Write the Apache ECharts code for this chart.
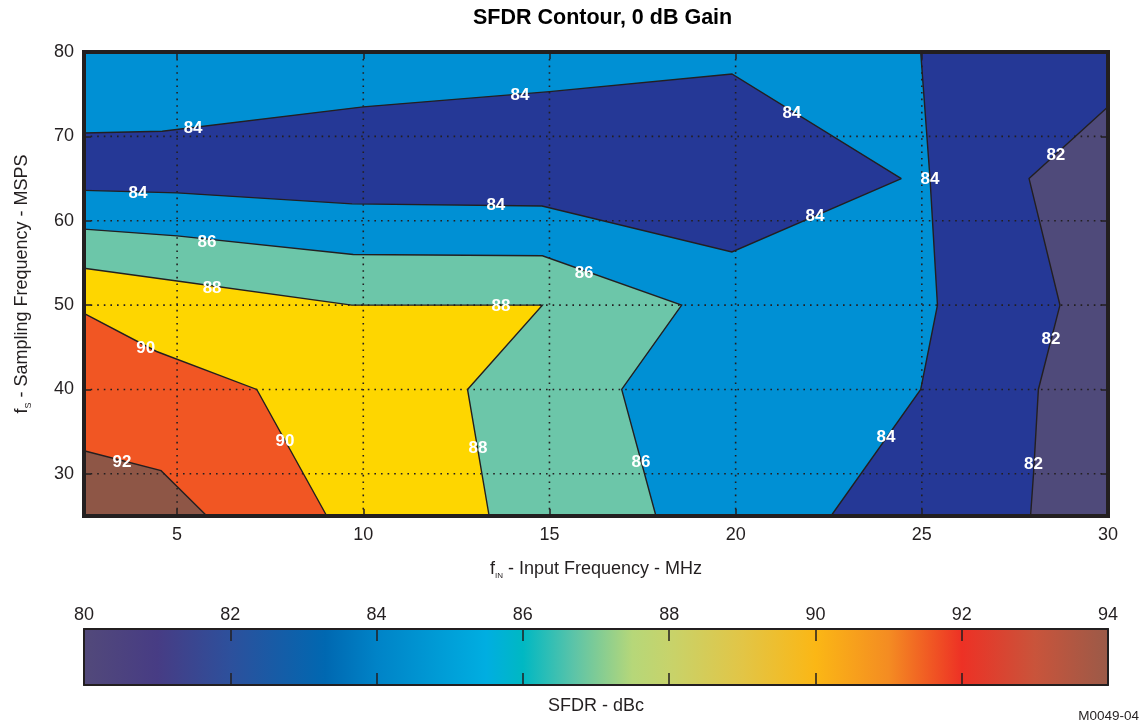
<!DOCTYPE html>
<html><head><meta charset="utf-8">
<script src="https://cdn.jsdelivr.net/npm/echarts@6/dist/echarts.min.js"></script>
<style>html,body{margin:0;padding:0;background:#fff}#c{width:1143px;height:724px}</style>
</head><body><div id="c"></div>
<script>
// ---- axis ranges / ticks ----
const xRange = [2.5, 30];
const yRange = [25, 80];
const xTicks = [5, 10, 15, 20, 25, 30];
const yTicks = [30, 40, 50, 60, 70, 80];
const cbRange = [80, 94];

// ---- contour level fill colours (80-82, 82-84, ..., 92-94) ----
const colGrey = '#4f4a7a';
const colDarkBlue = '#253896';
const colBlue = '#0090d4';
const colTeal = '#6cc6a9';
const colYellow = '#fed600';
const colOrange = '#f15623';
const colBrown = '#8e5646';

// ---- contour lines (fIN MHz, fS MSPS) ----
const c84BandTop = [[2.5, 70.4], [4.6, 70.6], [10, 73.5], [15, 75.3], [19.9, 77.4], [24.45, 65]];
const c84BandBottom = [[2.5, 63.6], [5, 63.3], [9.7, 62.0], [14.8, 61.75], [19.9, 56.3], [24.45, 65]];
const c84Right = [[24.97, 80], [25.22, 65], [25.42, 50], [24.97, 40], [22.56, 25]];
const c82 = [[30, 73.5], [27.88, 65], [28.71, 50], [28.13, 40], [28.0, 30], [27.92, 25]];
const c86 = [[2.5, 59.0], [5, 58.2], [9.73, 56.0], [14.81, 55.85], [18.55, 50], [16.94, 40], [17.86, 25]];
const c88 = [[2.5, 54.36], [5, 52.85], [9.69, 50], [14.81, 50], [12.8, 40], [13.38, 25]];
const c90 = [[2.5, 49.03], [4.45, 44.5], [7.14, 40], [9.02, 25]];
const c92 = [[2.5, 32.74], [4.57, 30.37], [5.8, 25]];

// ---- contour labels [fIN, fS, text] ----
const labels = [
  [5.43, 71.0, '84'], [14.21, 74.9, '84'], [21.51, 72.7, '84'],
  [3.95, 63.3, '84'], [13.56, 61.8, '84'], [22.13, 60.5, '84'],
  [25.22, 64.85, '84'], [24.04, 34.3, '84'],
  [28.6, 67.8, '82'], [28.47, 46.0, '82'], [28.0, 31.1, '82'],
  [5.8, 57.5, '86'], [15.93, 53.8, '86'], [17.46, 31.4, '86'],
  [5.94, 52.0, '88'], [13.7, 49.8, '88'], [13.08, 33.0, '88'],
  [4.16, 44.9, '90'], [7.9, 33.9, '90'],
  [3.52, 31.4, '92']
];

// ---- colour bar stops [dBc, colour] ----
const cbStops = [
  [80, '#52497a'], [81, '#473c84'], [82, '#2d509c'], [83.3, '#0068b1'],
  [84, '#0083c7'], [85.5, '#00aee1'], [86, '#00b8c3'], [86.7, '#5cc4a8'],
  [87.5, '#b6d779'], [88, '#c7d36b'], [89, '#e2c546'], [90, '#fbb715'],
  [91, '#f48c22'], [92, '#ed3125'], [93, '#c9543b'], [94, '#9b5a48']
];

// ---- regions built from the contour lines ----
const regions = [
  { pts: [[xRange[0], yRange[0]], [xRange[1], yRange[0]], [xRange[1], yRange[1]], [xRange[0], yRange[1]]], color: colBlue },
  { pts: c84BandTop.concat(c84BandBottom.slice().reverse()), color: colDarkBlue },
  { pts: c84Right.concat([[xRange[1], yRange[0]], [xRange[1], yRange[1]]]), color: colDarkBlue },
  { pts: c82.concat([[xRange[1], yRange[0]]]), color: colGrey },
  { pts: c86.concat([[xRange[0], yRange[0]]]), color: colTeal },
  { pts: c88.concat([[xRange[0], yRange[0]]]), color: colYellow },
  { pts: c90.concat([[xRange[0], yRange[0]]]), color: colOrange },
  { pts: c92.concat([[xRange[0], yRange[0]]]), color: colBrown }
];
const lines = [c84BandTop, c84BandBottom, c84Right, c82, c86, c88, c90, c92];

const FONT = "'Liberation Sans', Arial, sans-serif";
const INK = '#231f20';

const series = [];
regions.forEach((r, i) => {
  series.push({
    type: 'custom', coordinateSystem: 'cartesian2d', xAxisIndex: 0, yAxisIndex: 0,
    silent: true, z: 2 + i * 0.01, data: r.pts,
    renderItem: (params, api) => {
      if (params.dataIndex !== 0) return null;
      return { type: 'polygon', shape: { points: r.pts.map(p => api.coord(p)) }, style: { fill: r.color, stroke: null } };
    }
  });
});
lines.forEach(l => {
  series.push({
    type: 'custom', coordinateSystem: 'cartesian2d', xAxisIndex: 0, yAxisIndex: 0,
    silent: true, z: 3, data: l,
    renderItem: (params, api) => {
      if (params.dataIndex !== 0) return null;
      return { type: 'polyline', shape: { points: l.map(p => api.coord(p)) }, style: { fill: null, stroke: INK, lineWidth: 1.4 } };
    }
  });
});
// dotted grid lines
series.push({
  type: 'custom', coordinateSystem: 'cartesian2d', xAxisIndex: 0, yAxisIndex: 0,
  silent: true, z: 4, data: xTicks.filter(v => v < xRange[1]).map(v => [v, yRange[0]]),
  renderItem: (params, api) => {
    const a = api.coord([api.value(0), yRange[0]]), b = api.coord([api.value(0), yRange[1]]);
    return { type: 'line', shape: { x1: a[0], y1: a[1], x2: b[0], y2: b[1] }, style: { stroke: INK, lineWidth: 1.6, lineDash: [1.6, 5] } };
  }
});
series.push({
  type: 'custom', coordinateSystem: 'cartesian2d', xAxisIndex: 0, yAxisIndex: 0,
  silent: true, z: 4, data: yTicks.filter(v => v < yRange[1]).map(v => [xRange[0], v]),
  renderItem: (params, api) => {
    const a = api.coord([xRange[0], api.value(1)]), b = api.coord([xRange[1], api.value(1)]);
    return { type: 'line', shape: { x1: a[0], y1: a[1], x2: b[0], y2: b[1] }, style: { stroke: INK, lineWidth: 1.6, lineDash: [1.6, 5] } };
  }
});
// contour labels
series.push({
  type: 'custom', coordinateSystem: 'cartesian2d', xAxisIndex: 0, yAxisIndex: 0,
  silent: true, z: 20, data: labels,
  renderItem: (params, api) => {
    const p = api.coord([api.value(0), api.value(1)]);
    return { type: 'text', x: p[0], y: p[1], style: { text: labels[params.dataIndex][2], fill: '#fff', align: 'center', verticalAlign: 'middle', font: "bold 17px 'Liberation Sans', Arial, sans-serif" } };
  }
});
// colour bar
series.push({
  type: 'custom', coordinateSystem: 'cartesian2d', xAxisIndex: 2, yAxisIndex: 2,
  silent: true, z: 2, data: [[cbRange[0], 0]],
  renderItem: (params, api) => {
    const a = api.coord([cbRange[0], 1]), b = api.coord([cbRange[1], 0]);
    const span = cbRange[1] - cbRange[0];
    return {
      type: 'rect', shape: { x: a[0], y: a[1], width: b[0] - a[0], height: b[1] - a[1] },
      style: { fill: new echarts.graphic.LinearGradient(0, 0, 1, 0, cbStops.map(s => ({ offset: (s[0] - cbRange[0]) / span, color: s[1] }))) }
    };
  }
});

const lbl = { color: INK, fontSize: 18, fontFamily: FONT };
const option = {
  animation: false,
  backgroundColor: '#fff',
  grid: [
    { left: 84, right: 35, top: 52, height: 464, show: true, borderColor: INK, borderWidth: 4, backgroundColor: 'transparent' },
    { left: 84, right: 35, top: 629, height: 56 }
  ],
  xAxis: [
    { type: 'value', gridIndex: 0, min: xRange[0], max: xRange[1], position: 'bottom', z: 10,
      axisLine: { show: true, onZero: false, lineStyle: { color: INK, width: 4 } },
      axisTick: { show: true, inside: true, length: 7, customValues: xTicks, lineStyle: { color: INK, width: 1.5 } },
      axisLabel: { show: true, customValues: xTicks, margin: 10, ...lbl },
      splitLine: { show: false },
      name: '{f|f}{s|IN}{t| - Input Frequency - MHz}', nameLocation: 'middle', nameGap: 42,
      nameTextStyle: { rich: { f: { ...lbl, lineHeight: 22 }, s: { ...lbl, fontSize: 8, lineHeight: 22, verticalAlign: 'bottom', padding: [7, 0, 0, 0] }, t: { ...lbl, lineHeight: 22 } } }
    },
    { type: 'value', gridIndex: 0, min: xRange[0], max: xRange[1], position: 'top', z: 10,
      axisLine: { show: true, onZero: false, lineStyle: { color: INK, width: 3 } },
      axisTick: { show: true, inside: true, length: 7, customValues: xTicks, lineStyle: { color: INK, width: 1.5 } },
      axisLabel: { show: false }, splitLine: { show: false } },
    { type: 'value', gridIndex: 1, min: cbRange[0], max: cbRange[1], interval: 2, position: 'top', z: 10,
      axisLine: { show: true, onZero: false, lineStyle: { color: INK, width: 2 } },
      axisTick: { show: true, inside: true, length: 12, lineStyle: { color: INK, width: 1.5 } },
      axisLabel: { show: true, margin: 5, ...lbl }, splitLine: { show: false } },
    { type: 'value', gridIndex: 1, min: cbRange[0], max: cbRange[1], interval: 2, position: 'bottom', z: 10,
      axisLine: { show: true, onZero: false, lineStyle: { color: INK, width: 2 } },
      axisTick: { show: true, inside: true, length: 12, lineStyle: { color: INK, width: 1.5 } },
      axisLabel: { show: false }, splitLine: { show: false } }
  ],
  yAxis: [
    { type: 'value', gridIndex: 0, min: yRange[0], max: yRange[1], position: 'left', z: 10,
      axisLine: { show: true, onZero: false, lineStyle: { color: INK, width: 4 } },
      axisTick: { show: true, inside: true, length: 7, customValues: yTicks, lineStyle: { color: INK, width: 1.5 } },
      axisLabel: { show: true, customValues: yTicks, margin: 10, ...lbl },
      splitLine: { show: false },
      name: '{f|f}{s|S}{t| - Sampling Frequency - MSPS}', nameLocation: 'middle', nameGap: 51,
      nameTextStyle: { rich: { f: { ...lbl, lineHeight: 22 }, s: { ...lbl, fontSize: 9, lineHeight: 22, verticalAlign: 'bottom', padding: [7, 0, 0, 0] }, t: { ...lbl, lineHeight: 22 } } }
    },
    { type: 'value', gridIndex: 0, min: yRange[0], max: yRange[1], position: 'right', z: 10,
      axisLine: { show: true, onZero: false, lineStyle: { color: INK, width: 4 } },
      axisTick: { show: true, inside: true, length: 7, customValues: yTicks, lineStyle: { color: INK, width: 1.5 } },
      axisLabel: { show: false }, splitLine: { show: false } },
    { type: 'value', gridIndex: 1, min: 0, max: 1, position: 'left', z: 10,
      axisLine: { show: true, onZero: false, lineStyle: { color: INK, width: 2 } },
      axisTick: { show: false }, axisLabel: { show: false }, splitLine: { show: false } },
    { type: 'value', gridIndex: 1, min: 0, max: 1, position: 'right', z: 10,
      axisLine: { show: true, onZero: false, lineStyle: { color: INK, width: 2 } },
      axisTick: { show: false }, axisLabel: { show: false }, splitLine: { show: false } }
  ],
  graphic: [
    { type: 'text', left: 473, top: 7, style: { text: 'SFDR Contour, 0 dB Gain', fill: '#000', font: "bold 21.5px 'Liberation Sans', Arial, sans-serif" } },
    { type: 'text', left: 548, top: 697, style: { text: 'SFDR - dBc', fill: INK, font: "18px 'Liberation Sans', Arial, sans-serif" } },
    { type: 'text', right: 4, top: 709, style: { text: 'M0049-04', fill: INK, font: "13.5px 'Liberation Sans', Arial, sans-serif" } }
  ],
  series: series
};
const chart = echarts.init(document.getElementById('c'), null, { renderer: 'canvas' });
chart.setOption(option);
</script></body></html>
